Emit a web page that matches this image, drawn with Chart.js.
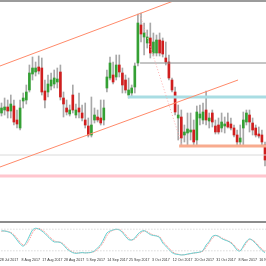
<!DOCTYPE html>
<html lang="en">
<head>
<meta charset="UTF-8">
<title>Daily chart with stochastic</title>
<script src="https://cdn.jsdelivr.net/npm/chart.js"></script>
<style>
  html, body { margin: 0; padding: 0; background: #fff; }
  canvas { display: block; }
</style>
</head>
<body>
<canvas id="chart" width="266" height="266"></canvas>
<script>
// daily candles (no price scale shown, so units are arbitrary)
const opens  = [144,147,150,146,151,137,129,156,157,167, 183,185,190,189,166,165,171,173,175,185,
                159,149,143,162,142,149,144,137,131,122, 137,140,139,137,169,179,182,180,192,184,
                177,162,164,170,194,232,220,214,219,204, 204,217,216,199,195,177,165,139,140,122,
                124,125,127,117,139,137,147,136,144,131, 132,129,131,135,133,129,122,115,129,135,
                142,134,129,123,122,112];
const highs  = [154,159,157,162,157,147,157,164,172,192, 200,195,201,199,177,182,184,187,189,192,
                165,157,152,172,153,164,152,154,139,160, 149,147,157,157,187,200,195,202,202,189,
                182,179,172,194,243,244,234,227,234,224, 222,224,219,215,202,179,170,152,147,132,
                144,144,137,151,152,154,166,144,147,137, 139,144,140,144,139,132,127,132,145,147,
                147,139,132,130,127,115];
const lows   = [141,142,139,139,132,129,127,149,153,165, 177,181,183,162,149,160,167,169,169,157,
                140,142,141,144,139,139,136,129,120,120, 134,135,132,132,165,177,173,177,180,164,
                164,159,160,164,191,215,202,209,199,201, 201,201,200,192,177,165,142,117,111,115,
                112,117,111,111,132,133,132,129,130,123, 123,125,124,129,127,120,112,112,112,132,
                125,122,120,119,112,91];
const closes = [149,150,146,153,135,133,149,159,165,184, 189,189,186,165,157,173,177,179,178,160,
                153,145,147,147,147,145,139,132,122,132, 142,137,134,149,180,194,175,192,185,172,
                167,167,169,191,234,223,224,220,204,215, 217,204,203,195,179,167,145,142,119,125,
                128,127,115,145,143,145,137,139,135,125, 125,135,133,130,129,122,115,119,137,144,
                135,127,122,121,115,97];

// stochastic oscillator (main and signal), 0..100
const stochMain   = [75.6,75,73,69.5,61,50,39,33,44,61, 78,82.6,80.6,75,68,59,51,44.5,44.5,43,
                     36,26,19.5,14.7,13,14,15,14,14.7,16, 20,28,37.5,53,69.5,75,78,80,78,71,
                     60,51,50,55.6,66.7,73.7,76,71,65,62.5, 61,57,41.7,33,23.6,15,11,9.7,8.3,9,
                     11,12.5,14,15,16.7,21,36,46,60,63, 60,54,50,47,41.7,33,22,19.5,33,46,
                     53,48.6,40,30.5,21,15];
const stochSignal = [74,75,74,71,65,55,44,36,38,52, 70,80,82,78,72,63,55,48,45,44,
                     39,30,22,17,14,14,15,14.5,14.5,15.5, 18,24,33,46,62,72,77,79,79,74,
                     65,55,50,53,62,70,75,73,68,64, 62,59,47,37,28,18,13,10.5,9,9,
                     10,12,13.5,14.5,16,19,30,42,55,62, 61,56,52,48,44,36,26,21,29,42,
                     51,50,43,34,25,18];
const stochLevels = [80, 20];

// date labels and the bar each one sits on
const tickBars   = [2, 9, 16, 23, 30, 37, 44, 51, 58, 65, 72, 79, 86];
const tickLabels = ['28 Jul 2017', '8 Aug 2017', '17 Aug 2017', '28 Aug 2017', '5 Sep 2017', '14 Sep 2017',
                    '25 Sep 2017', '3 Oct 2017', '12 Oct 2017', '20 Oct 2017', '31 Oct 2017', '8 Nov 2017', '16 Nov 2017'];

// objects drawn on the chart, as [bar, price] end points
const upperChannel = [[-0.5, 191], [56.3, 257]];
const lowerChannel = [[-0.5, 90], [76.3, 177]];
const dropLine     = [[44.7, 242], [58.2, 112]];
const greyLevel    = [[44.7, 194], [87, 194]];
const blueZone     = [[40.8, 160], [87, 160]];
const orangeLevel  = [[57.3, 111], [87, 111]];
const thinLevel    = [[-1, 102], [87, 102]];
const pinkLevel    = [[-1, 81], [87, 81]];

function segment(points, color, width, dash, axis) {
    return {
        type: 'line',
        data: points.map(p => ({ x: p[0], y: p[1] })),
        borderColor: color,
        borderWidth: width,
        borderDash: dash || [],
        pointRadius: 0,
        fill: false,
        tension: 0,
        yAxisID: axis || 'y',
        order: 0
    };
}

const wickData = opens.map((o, i) => ({ x: i, y: [lows[i], highs[i]] }));
const bodyData = opens.map((o, i) => {
    let c = closes[i];
    if (Math.abs(c - o) < 1) c = o + 1;
    return { x: i, y: [o, c] };
});
const bodyColors = opens.map((o, i) => closes[i] >= o ? '#34a034' : '#d01e1e');

const frame = {
    id: 'frame',
    beforeDraw(chart) {
        const ctx = chart.ctx;
        ctx.save();
        ctx.fillStyle = '#fff';
        ctx.fillRect(0, 0, chart.width, chart.height);
        ctx.restore();
    },
    afterDraw(chart) {
        const ctx = chart.ctx;
        ctx.save();
        ctx.fillStyle = '#9b9b9b';
        ctx.fillRect(0, 0, chart.width, 2);
        ctx.restore();
    }
};

new Chart(document.getElementById('chart'), {
    type: 'bar',
    data: {
        datasets: [
            segment(upperChannel, '#ff8a6a', 1),
            segment(lowerChannel, '#ff8a6a', 1),
            segment(dropLine, '#ffb0b0', 1, [1, 2]),
            segment(greyLevel, '#8a8a8a', 1),
            segment(blueZone, '#a9dde3', 3),
            segment(orangeLevel, '#f8ab8e', 3),
            segment(thinLevel, '#dadada', 1),
            segment(pinkLevel, '#ffc6ce', 3),
            segment([[-1, 100], [87, 100]], '#666', 1.5, [], 'y2'),
            segment([[-1, stochLevels[0]], [87, stochLevels[0]]], '#c8c8c8', 1, [1, 2], 'y2'),
            segment([[-1, stochLevels[1]], [87, stochLevels[1]]], '#c8c8c8', 1, [1, 2], 'y2'),
            {
                type: 'line',
                data: stochMain.map((v, i) => ({ x: i, y: v })),
                borderColor: '#66d2d2',
                borderWidth: 1,
                pointRadius: 0,
                tension: 0.3,
                yAxisID: 'y2',
                order: 0
            },
            {
                type: 'line',
                data: stochSignal.map((v, i) => ({ x: i, y: v })),
                borderColor: '#ff8080',
                borderWidth: 1,
                borderDash: [1, 1],
                pointRadius: 0,
                tension: 0.3,
                yAxisID: 'y2',
                order: 0
            },
            {
                data: bodyData,
                backgroundColor: bodyColors,
                barThickness: 2,
                grouped: false,
                order: 1
            },
            {
                data: wickData,
                backgroundColor: '#a8a8a8',
                barThickness: 1,
                grouped: false,
                order: 2
            }
        ]
    },
    options: {
        responsive: false,
        animation: false,
        devicePixelRatio: 1,
        layout: { padding: 0 },
        plugins: {
            legend: { display: false },
            tooltip: { enabled: false }
        },
        scales: {
            x: {
                type: 'linear',
                offset: false,
                min: -0.484,
                max: 85.32,
                grid: { display: false, drawTicks: false, offset: false },
                border: { display: false },
                ticks: {
                    autoSkip: false,
                    maxRotation: 0,
                    minRotation: 0,
                    padding: 1,
                    labelOffset: 1.3,
                    color: '#333',
                    font: { size: 3.6, family: 'Liberation Sans' },
                    callback: v => tickLabels[tickBars.indexOf(v)]
                },
                afterBuildTicks: s => { s.ticks = tickBars.map(v => ({ value: v })); },
                afterFit: s => { s.height = 9; s.paddingLeft = 0; s.paddingRight = 0; }
            },
            y: { display: false, min: 0, max: 257 },
            y2: { display: false, min: 2.78, max: 716.7 }
        }
    },
    plugins: [frame]
});
</script>
</body>
</html>
